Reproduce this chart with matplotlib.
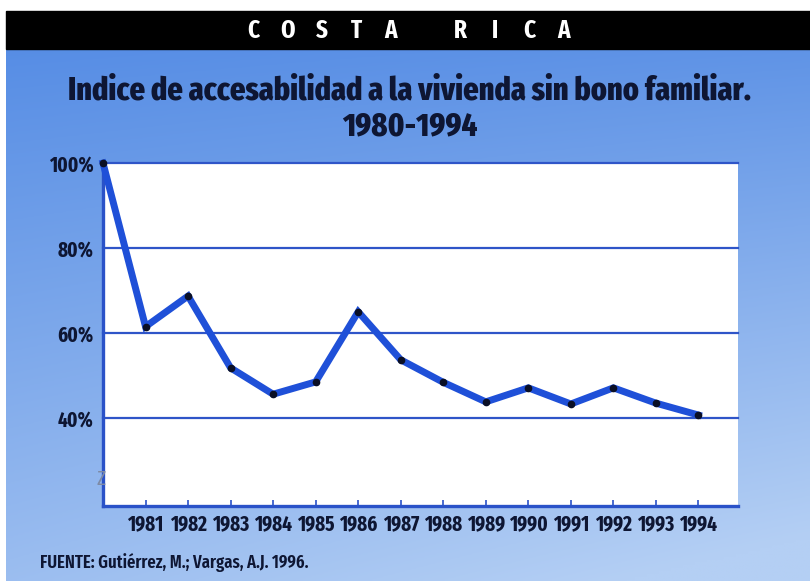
import numpy as np
import matplotlib.pyplot as plt
from matplotlib.patches import Rectangle
from matplotlib.ticker import FixedLocator

# Índice de accesibilidad a la vivienda, Costa Rica
years = [1980, 1981, 1982, 1983, 1984, 1985, 1986, 1987,
         1988, 1989, 1990, 1991, 1992, 1993, 1994]
index_pct = [100.0, 61.5, 68.7, 51.8, 45.6, 48.5, 65.0, 53.7,
             48.4, 43.8, 47.1, 43.3, 47.1, 43.5, 40.7]
y_ticks = [40, 60, 80, 100]
x_ticks = list(range(1981, 1995))

COND = ['Fira Sans Condensed', 'DejaVu Sans']
XCOND = ['Fira Sans Extra Condensed', 'Fira Sans Condensed', 'DejaVu Sans']
plt.rcParams['font.family'] = COND

W, H = 810, 581
fig = plt.figure(figsize=(W / 100, H / 100), dpi=100, facecolor='white')

# blue gradient backdrop (darker top-left, paler toward the bottom/right)
bg = fig.add_axes([6 / W, 0, 1 - 6 / W, 1 - 11 / H])
bg.set_axis_off()
yy, xx = np.mgrid[0:1:200j, 0:1:200j]
top = np.array([82, 138, 228]) / 255
bottom = np.array([180, 207, 244]) / 255
t = np.clip(0.75 * yy + 0.25 * xx * (0.3 + yy), 0, 1)[..., None]
img = top * (1 - t) + bottom * t
bg.imshow(img, extent=[0, 1, 1, 0], aspect='auto')
bg.set_xlim(0, 1)
bg.set_ylim(1, 0)

# black header band with spaced-out country name
fig.patches.append(Rectangle((6 / W, 1 - 49 / H), 1 - 6 / W, 38 / H,
                             transform=fig.transFigure, color='black', zorder=1))
x = 253
for ch in 'COSTA RICA':
    if ch != ' ':
        fig.text(x / W, 1 - 31 / H, ch, color='white', fontsize=18,
                 fontweight='bold', ha='center', va='center', family=XCOND)
    x += 34.5

title_color = '#0e1633'
fig.text(410 / W, 1 - 91 / H, 'Indice de accesabilidad a la vivienda sin bono familiar.',
         color=title_color, fontsize=23.6, fontweight='heavy', ha='center', va='center',
         family=XCOND)
fig.text(410 / W, 1 - 127 / H, '1980-1994', color=title_color, fontsize=23.6,
         fontweight='heavy', ha='center', va='center', family=XCOND)

ax = fig.add_axes([103 / W, 75 / H, 635 / W, 343 / H])
ax.set_facecolor('white')
ax.set_xlim(1980, 1994.93)
ax.set_ylim(19.3, 100)

blue_grid = '#2f55c8'
for v in y_ticks:
    ax.axhline(v, color=blue_grid, lw=1.6, zorder=1, clip_on=False)

ax.plot(years, index_pct, color='#1f50d8', lw=5, solid_joinstyle='miter',
        zorder=3, clip_on=False)
ax.plot(years, index_pct, 'o', color='#0a0f25', ms=4.5, zorder=4, clip_on=False)

for side in ['top', 'right']:
    ax.spines[side].set_visible(False)
for side in ['left', 'bottom']:
    ax.spines[side].set_color('#2a52c8')
    ax.spines[side].set_linewidth(2.4)

ax.yaxis.set_major_locator(FixedLocator(y_ticks))
ax.set_yticklabels([f'{v}%' for v in y_ticks])
ax.xaxis.set_major_locator(FixedLocator(x_ticks))
ax.set_xticklabels([str(x) for x in x_ticks])
ax.tick_params(axis='y', length=0, pad=7, labelsize=15, labelcolor=title_color)
ax.tick_params(axis='x', direction='in', length=4, width=1.2, color='#2a52c8',
               pad=5, labelsize=15, labelcolor=title_color)
for lab in ax.get_xticklabels() + ax.get_yticklabels():
    lab.set_fontweight('bold')
    lab.set_family(XCOND)

# axis break mark near the bottom of the y axis
ax.text(1980 - 0.05, 25.5, 'Z', color='#7d8aa5', fontsize=14, ha='center',
        va='center', zorder=5, clip_on=False, family=COND)

fig.text(40 / W, 1 - 563 / H, 'FUENTE: Gutiérrez, M.; Vargas, A.J. 1996.',
         color=title_color, fontsize=13, fontweight='semibold', ha='left', va='center',
         family=XCOND)

fig.savefig('out.png', dpi=100)
